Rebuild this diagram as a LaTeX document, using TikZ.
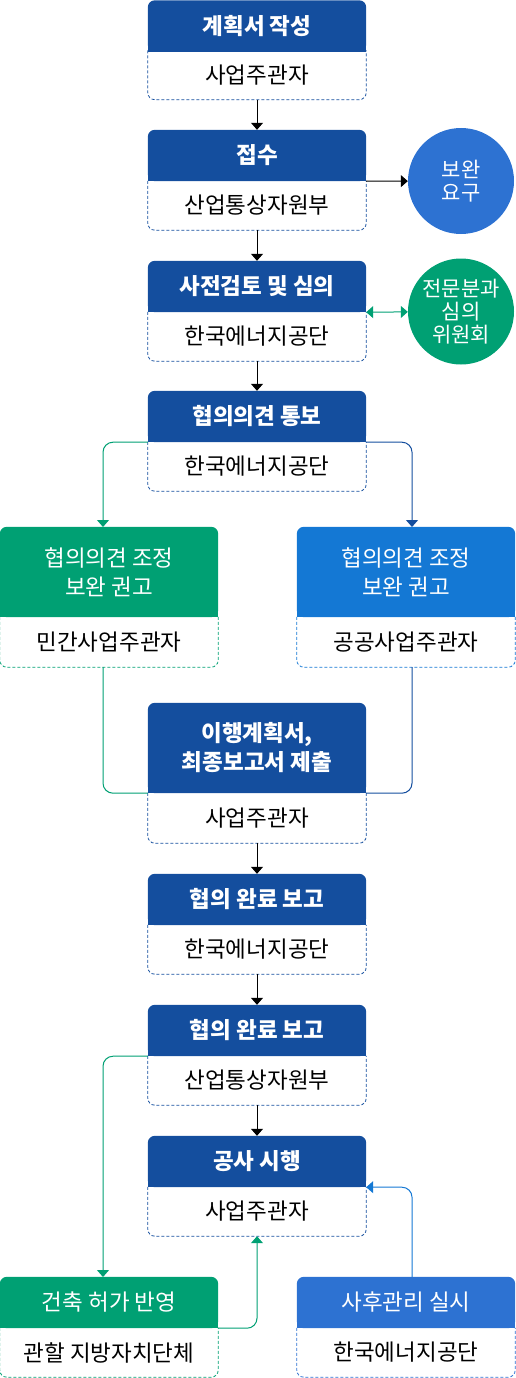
\documentclass[tikz,border=0pt]{standalone}
\usepackage{fontspec}
\setmainfont{Noto Sans CJK KR}
\usetikzlibrary{arrows.meta, backgrounds}

\definecolor{navy}{HTML}{144E9E}
\definecolor{leaf}{HTML}{00A073}
\definecolor{sky}{HTML}{1478D4}
\definecolor{azure}{HTML}{2D72D2}

\begin{document}
\begin{tikzpicture}[x=1pt, y=-1pt, >={Triangle[width=12pt,length=7pt]},
	head/.style={minimum width=218pt, minimum height=51pt, inner sep=0pt, text=white, align=center, font=\fontsize{22.5}{29}\selectfont\bfseries},
	flat/.style={head, font=\fontsize{22.5}{29}\selectfont},
	body/.style={minimum width=218pt, minimum height=49pt, inner sep=0pt, font=\fontsize{22.5}{29}\selectfont},
	bubble/.style={circle, minimum size=106pt, inner sep=0pt, fill=#1, text=white, align=center, font=\fontsize{21}{23}\selectfont},
	line/.style={line width=1pt, rounded corners=10pt},
	link/.style={line, ->}]
	\useasboundingbox (0,0) rectangle (515,1378);

	\node[head] (h1) at (257,26) {계획서 작성};
	\node[body] (b1) at (257,75) {사업주관자};
	\node[head] (h2) at (257,155.5) {접수};
	\node[body] (b2) at (257,205.5) {산업통상자원부};
	\node[head] (h3) at (257,286.5) {사전검토 및 심의};
	\node[body] (b3) at (257,336.5) {한국에너지공단};
	\node[head] (h4) at (257,416.5) {협의의견 통보};
	\node[body] (b4) at (257,466.5) {한국에너지공단};

	\node[flat, minimum height=90pt] (hL) at (109,572) {협의의견 조정\\보완 권고};
	\node[body, minimum height=50pt] (bL) at (109,642) {민간사업주관자};
	\node[flat, minimum height=90pt] (hR) at (406,572) {협의의견 조정\\보완 권고};
	\node[body, minimum height=50pt] (bR) at (406,642) {공공사업주관자};

	\node[head, minimum height=90pt] (h5) at (257,748) {이행계획서,\\최종보고서 제출};
	\node[body, minimum height=50pt] (b5) at (257,818) {사업주관자};
	\node[head] (h6) at (257,899.5) {협의 완료 보고};
	\node[body] (b6) at (257,949.5) {한국에너지공단};
	\node[head] (h7) at (257,1030.5) {협의 완료 보고};
	\node[body] (b7) at (257,1080.5) {산업통상자원부};
	\node[head] (h8) at (257,1161.5) {공사 시행};
	\node[body] (b8) at (257,1211.5) {사업주관자};

	\node[flat] (hP) at (109,1302.5) {건축 허가 반영};
	\node[body] (bP) at (109,1352.5) {관할 지방자치단체};
	\node[flat] (hQ) at (406,1302.5) {사후관리 실시};
	\node[body] (bQ) at (406,1352.5) {한국에너지공단};

	\node[bubble=azure] (c1) at (461,181) {보완\\요구};
	\node[bubble=leaf] (c2) at (461,311.5) {전문분과\\심의\\위원회};

	\coordinate (gl) at (103,527);
	\coordinate (gr) at (412,527);
	\coordinate (gl2) at (103,667);
	\coordinate (gr2) at (412,667);
	\coordinate (gl3) at (103,1277);
	\coordinate (gr3) at (412,1277);

	\begin{scope}[on background layer]
		\foreach \n/\c in {1/navy, 2/navy, 3/navy, 4/navy, L/leaf, R/sky, 5/navy, 6/navy, 7/navy, 8/navy, P/leaf, Q/azure} {
			\fill[\c, rounded corners=7pt] (h\n.north west) rectangle (h\n.south east);
			\fill[\c] (h\n.west) rectangle (h\n.south east);
			\draw[\c, line width=0.8pt, dash pattern=on 3pt off 2pt, rounded corners=7pt]
				(b\n.north west) -- (b\n.south west) -- (b\n.south east) -- (b\n.north east);
		}
	\end{scope}

	\draw[link] (b1.south) -- (h2.north);
	\draw[link] (b2.south) -- (h3.north);
	\draw[link] (b3.south) -- (h4.north);
	\draw[link] (h2.south east) -- (c1);
	\draw[line, leaf, <->] (h3.south east) -- (c2);

	\draw[link, leaf] (h4.south west) -| (gl);
	\draw[link, navy] (h4.south east) -| (gr);
	\draw[line, leaf] (gl2) |- (h5.south west);
	\draw[line, navy] (gr2) |- (h5.south east);

	\draw[link] (b5.south) -- (h6.north);
	\draw[link] (b6.south) -- (h7.north);
	\draw[link] (b7.south) -- (h8.north);
	\draw[link, leaf] (h7.south west) -| (gl3);
	\draw[link, leaf] (hP.south east) -| (b8.south);
	\draw[link, sky] (gr3) |- (h8.south east);
\end{tikzpicture}
\end{document}
